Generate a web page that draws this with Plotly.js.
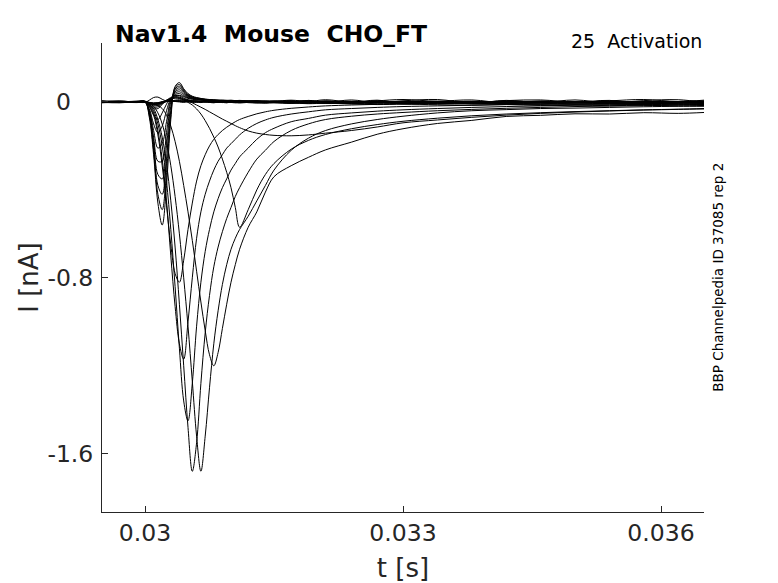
<!DOCTYPE html>
<html>
<head>
<meta charset="utf-8">
<script src="https://cdn.plot.ly/plotly-3.0.1.min.js"></script>
<style>
  html, body { margin: 0; padding: 0; background: #fff; }
  #chart { width: 778px; height: 583px; }
</style>
</head>
<body>
<div id="chart"></div>
<script>
// Sample times (s), shared by every sweep; denser around the current peaks
const tSec = [0.0295,0.0297,0.0299,0.0300,0.03005,0.0301,0.03015,0.0302,0.03025,0.0303,0.03035,0.0304,0.03045,0.0305,0.03055,
  0.0306,0.03065,0.0307,0.03075,0.0308,0.03085,0.0309,0.03095,0.031,0.03105,0.0311,0.0312,0.0313,0.0314,0.0315,
  0.0317,0.0319,0.0321,0.0324,0.0327,0.033,0.0334,0.0338,0.0342,0.0346,0.035,0.0354,0.0358,0.0362,0.0365];

// Currents (nA), one array per sweep
const sweep01 = [0.004,-0.002,0.003,0.001,-0.004,-0.008,-0.006,0.000,0.004,0.006,0.005,0.003,0.002,0.004,0.001,
  0.003,0.000,0.002,-0.002,0.001,0.003,-0.001,0.002,0.000,0.003,-0.002,0.001,0.004,0.000,0.002,
  -0.006,0.007,-0.002,0.009,-0.004,0.005,0.011,-0.005,0.007,-0.002,0.009,-0.004,0.006,0.010,-0.002];
const sweep02 = [-0.003,0.002,-0.001,-0.002,0.008,0.020,0.022,0.012,0.004,0.002,0.004,0.006,0.004,0.002,0.003,
  0.001,0.004,-0.001,0.002,0.000,-0.002,0.002,0.004,0.000,-0.002,0.003,0.001,-0.001,0.003,0.000,
  0.005,-0.007,0.003,-0.002,0.008,-0.006,0.002,0.009,-0.005,0.004,-0.001,0.007,-0.008,0.002,0.005];
const sweep03 = [0.001,0.004,0.000,0.002,-0.006,-0.014,-0.012,-0.004,0.002,0.004,0.008,0.010,0.007,0.005,0.004,
  0.002,0.000,0.003,0.001,-0.002,0.002,0.000,-0.003,0.001,0.002,-0.001,0.000,0.002,-0.003,0.001,
  0.001,0.006,-0.007,-0.002,0.004,-0.009,-0.004,0.003,-0.008,0.001,-0.005,0.005,-0.010,-0.002,-0.007];
const sweep04 = [-0.002,-0.004,0.001,-0.001,-0.008,-0.018,-0.016,-0.006,0.004,0.012,0.018,0.016,0.010,0.006,0.004,
  0.003,0.001,0.002,-0.001,0.001,0.000,-0.002,0.001,-0.001,0.000,0.002,-0.002,0.000,0.001,-0.002,
  0.003,-0.004,0.005,-0.008,0.001,-0.006,0.004,-0.009,-0.002,-0.010,0.002,-0.006,-0.002,-0.008,-0.011];
const sweep05 = [0.005,0.001,0.003,0.002,-0.003,-0.006,-0.004,0.001,0.003,0.005,0.004,0.006,0.003,0.005,0.002,
  0.004,0.001,0.003,0.005,0.002,0.004,0.001,0.003,0.000,0.002,0.004,0.001,0.003,0.000,0.002,
  0.008,0.002,0.010,-0.001,0.005,0.011,0.002,-0.004,0.006,0.009,-0.001,0.005,0.011,0.002,0.008];
const sweep06 = [-0.004,-0.001,-0.003,-0.002,-0.005,-0.009,-0.007,-0.002,0.001,0.003,0.002,0.000,-0.002,0.000,-0.003,
  -0.001,-0.003,0.000,-0.002,-0.004,-0.001,-0.003,0.000,-0.002,-0.004,-0.001,-0.003,-0.005,-0.002,-0.004,
  -0.006,-0.003,-0.005,-0.007,-0.004,-0.006,-0.008,-0.005,-0.007,-0.009,-0.006,-0.008,-0.007,-0.009,-0.008];
const sweep07 = [0.002,0.004,0.000,0.003,-0.002,-0.004,-0.003,0.000,0.002,0.004,0.003,0.002,0.000,0.003,0.001,
  -0.002,0.001,-0.001,0.002,-0.003,0.000,-0.002,-0.004,-0.001,-0.003,-0.005,-0.002,-0.004,-0.006,-0.003,
  -0.005,-0.008,-0.006,-0.009,-0.012,-0.010,-0.013,-0.015,-0.012,-0.016,-0.014,-0.017,-0.015,-0.018,-0.016];
const sweep08 = [0.001,-0.002,0.002,0.000,-0.004,-0.010,-0.008,0.000,0.008,0.016,0.022,0.020,0.012,0.004,-0.004,
  -0.014,-0.024,-0.034,-0.045,-0.056,-0.067,-0.078,-0.088,-0.098,-0.108,-0.117,-0.132,-0.142,-0.148,-0.152,
  -0.154,-0.150,-0.142,-0.130,-0.114,-0.095,-0.082,-0.070,-0.060,-0.052,-0.046,-0.041,-0.037,-0.034,-0.032];
const sweep09 = [-0.002,0.001,-0.001,0.002,-0.004,-0.012,-0.010,-0.002,0.006,0.014,0.018,0.016,0.008,-0.002,-0.014,
  -0.032,-0.055,-0.085,-0.120,-0.160,-0.205,-0.260,-0.320,-0.390,-0.480,-0.570,-0.490,-0.400,-0.330,-0.280,
  -0.215,-0.175,-0.148,-0.122,-0.103,-0.088,-0.074,-0.063,-0.055,-0.049,-0.044,-0.040,-0.036,-0.033,-0.030];
const sweep10 = [0.002,-0.001,0.001,-0.002,-0.004,-0.010,-0.016,-0.030,-0.060,-0.110,-0.180,-0.270,-0.380,-0.500,-0.630,
  -0.770,-0.910,-1.040,-1.150,-1.200,-1.140,-1.030,-0.920,-0.820,-0.740,-0.670,-0.570,-0.500,-0.410,-0.340,
  -0.290,-0.252,-0.218,-0.183,-0.147,-0.122,-0.098,-0.084,-0.066,-0.061,-0.054,-0.055,-0.049,-0.052,-0.048];
const sweep11 = [-0.001,0.002,-0.002,0.000,-0.006,-0.020,-0.050,-0.100,-0.180,-0.290,-0.430,-0.600,-0.800,-1.020,-1.270,
  -1.520,-1.680,-1.520,-1.300,-1.100,-0.950,-0.830,-0.740,-0.670,-0.620,-0.580,-0.520,-0.450,-0.380,-0.310,
  -0.220,-0.165,-0.130,-0.100,-0.080,-0.065,-0.050,-0.040,-0.035,-0.030,-0.028,-0.025,-0.022,-0.020,-0.020];
const sweep12 = [0.001,-0.002,0.002,-0.001,-0.010,-0.030,-0.080,-0.160,-0.280,-0.450,-0.660,-0.920,-1.200,-1.480,-1.680,
  -1.550,-1.280,-1.050,-0.880,-0.750,-0.660,-0.590,-0.530,-0.480,-0.430,-0.390,-0.320,-0.260,-0.220,-0.180,
  -0.130,-0.100,-0.080,-0.065,-0.055,-0.048,-0.040,-0.034,-0.029,-0.025,-0.021,-0.019,-0.017,-0.015,-0.014];
const sweep13 = [-0.002,0.001,0.000,0.002,-0.012,-0.040,-0.100,-0.200,-0.360,-0.580,-0.840,-1.120,-1.360,-1.450,-1.280,
  -1.020,-0.820,-0.680,-0.580,-0.500,-0.440,-0.390,-0.350,-0.310,-0.280,-0.250,-0.210,-0.170,-0.140,-0.120,
  -0.090,-0.075,-0.060,-0.050,-0.042,-0.036,-0.030,-0.025,-0.021,-0.018,-0.015,-0.013,-0.011,-0.010,-0.009];
const sweep14 = [0.002,-0.001,0.001,-0.002,-0.015,-0.050,-0.130,-0.260,-0.450,-0.700,-0.930,-1.100,-1.170,-1.000,-0.800,
  -0.620,-0.500,-0.420,-0.360,-0.310,-0.270,-0.240,-0.210,-0.190,-0.170,-0.150,-0.120,-0.098,-0.082,-0.070,
  -0.055,-0.045,-0.036,-0.030,-0.025,-0.021,-0.018,-0.015,-0.012,-0.010,-0.010,-0.008,-0.008,-0.006,-0.006];
const sweep15 = [-0.001,0.002,-0.002,0.001,-0.020,-0.060,-0.150,-0.290,-0.470,-0.650,-0.780,-0.820,-0.720,-0.580,-0.460,
  -0.360,-0.290,-0.240,-0.200,-0.170,-0.148,-0.130,-0.115,-0.102,-0.090,-0.080,-0.066,-0.054,-0.045,-0.038,
  -0.029,-0.023,-0.018,-0.014,-0.011,-0.009,-0.007,-0.006,-0.005,-0.004,-0.004,-0.003,-0.003,-0.002,-0.002];
const sweep16 = [0.002,-0.003,0.001,0.000,-0.070,-0.240,-0.460,-0.560,-0.380,-0.080,0.070,0.088,0.060,0.038,0.026,
  0.020,0.016,0.013,0.011,0.010,0.008,0.009,0.007,0.008,0.006,0.007,0.005,0.006,0.004,0.005,
  0.003,0.004,0.002,0.003,0.001,0.003,0.000,0.002,0.001,-0.001,0.002,0.000,0.001,-0.002,0.001];
const sweep17 = [-0.001,0.002,-0.002,0.001,-0.060,-0.220,-0.420,-0.490,-0.320,-0.060,0.065,0.080,0.055,0.034,0.024,
  0.018,0.015,0.012,0.010,0.009,0.008,0.006,0.007,0.005,0.006,0.004,0.005,0.003,0.004,0.002,
  0.004,0.001,0.003,0.000,0.002,0.001,-0.001,0.002,0.000,0.001,-0.002,0.001,0.000,-0.001,0.002];
const sweep18 = [0.003,0.000,0.002,-0.001,-0.050,-0.200,-0.380,-0.420,-0.260,-0.040,0.058,0.072,0.050,0.031,0.022,
  0.017,0.013,0.011,0.009,0.008,0.007,0.006,0.005,0.006,0.004,0.005,0.003,0.004,0.002,0.003,
  0.001,0.003,0.000,0.002,-0.001,0.001,0.002,-0.001,0.001,0.000,0.002,-0.002,0.001,0.000,-0.001];
const sweep19 = [-0.002,0.001,0.000,0.002,-0.050,-0.180,-0.330,-0.350,-0.200,-0.020,0.052,0.064,0.045,0.028,0.020,
  0.015,0.012,0.010,0.008,0.007,0.006,0.005,0.006,0.004,0.005,0.003,0.004,0.002,0.003,0.001,
  0.003,0.000,0.002,0.001,-0.001,0.002,0.000,0.001,-0.002,0.001,0.000,0.002,-0.001,0.000,0.001];
const sweep20 = [0.001,-0.002,0.002,0.000,-0.040,-0.160,-0.270,-0.270,-0.140,0.000,0.046,0.055,0.040,0.025,0.018,
  0.014,0.011,0.009,0.008,0.006,0.007,0.005,0.004,0.005,0.003,0.004,0.002,0.003,0.001,0.002,
  0.000,0.002,-0.001,0.001,0.002,-0.001,0.001,0.000,0.002,-0.001,0.001,0.000,-0.002,0.001,0.000];
const sweep21 = [-0.001,0.003,0.000,0.001,-0.040,-0.130,-0.210,-0.190,-0.090,0.010,0.040,0.046,0.034,0.022,0.016,
  0.012,0.010,0.008,0.007,0.006,0.005,0.004,0.005,0.003,0.004,0.002,0.003,0.001,0.002,0.000,
  0.002,0.001,-0.001,0.002,0.000,0.001,-0.002,0.001,0.000,0.002,-0.001,0.000,0.001,-0.001,0.000];
const sweep22 = [0.002,0.000,-0.001,0.000,-0.030,-0.100,-0.140,-0.110,-0.040,0.015,0.034,0.038,0.028,0.019,0.014,
  0.011,0.009,0.007,0.006,0.005,0.004,0.005,0.003,0.004,0.002,0.003,0.001,0.002,0.000,0.001,
  -0.001,0.001,0.000,0.002,-0.001,0.000,0.001,-0.002,0.000,0.001,-0.001,0.001,0.000,-0.002,0.000];
const sweep23 = [0.000,0.002,0.001,-0.001,-0.020,-0.060,-0.080,-0.050,-0.010,0.018,0.028,0.030,0.024,0.016,0.012,
  0.009,0.008,0.006,0.005,0.004,0.005,0.003,0.004,0.002,0.003,0.001,0.002,0.000,0.001,-0.001,
  0.001,0.000,0.002,-0.001,0.001,0.000,-0.002,0.001,-0.001,0.000,0.001,-0.002,0.000,0.001,-0.001];
const sweep24 = [0.000,0.002,-0.002,0.000,-0.012,-0.030,-0.030,-0.012,0.008,0.020,0.030,0.028,0.018,0.010,0.006,
  0.004,0.003,0.001,0.002,0.000,-0.001,0.001,-0.002,0.000,-0.002,-0.001,-0.003,-0.002,-0.004,-0.003,
  -0.005,-0.004,-0.006,-0.005,-0.008,-0.007,-0.009,-0.008,-0.010,-0.009,-0.011,-0.010,-0.012,-0.011,-0.012];
const sweep25 = [0.003,0.000,0.002,0.004,-0.010,-0.024,-0.022,-0.008,0.006,0.016,0.024,0.022,0.014,0.008,0.005,
  0.004,0.002,0.003,0.000,0.002,0.001,0.003,0.000,0.002,0.001,-0.001,0.002,0.000,0.001,0.003,
  0.000,0.002,0.001,-0.002,0.003,0.000,-0.001,0.002,0.000,0.003,-0.002,0.001,0.000,0.002,-0.001];

const sweeps = [sweep01, sweep02, sweep03, sweep04, sweep05, sweep06, sweep07, sweep08, sweep09, sweep10,
  sweep11, sweep12, sweep13, sweep14, sweep15, sweep16, sweep17, sweep18, sweep19, sweep20,
  sweep21, sweep22, sweep23, sweep24, sweep25];

// Axis ticks
const xTickVals = [0.03, 0.033, 0.036];
const xTickText = ['0.03', '0.033', '0.036'];
const yTickVals = [-1.6, -0.8, 0];
const yTickText = ['-1.6', '-0.8', '0\u00a0\u00a0\u00a0'];

const axisColor = '#262626';
const font = 'DejaVu Sans, sans-serif';

const traces = sweeps.map((vals, i) => ({
    x: tSec,
    y: vals,
    type: 'scatter',
    mode: 'lines',
    line: { color: '#000', width: 1, shape: 'spline', smoothing: 1 },
    name: `sweep ${i + 1}`,
    hoverinfo: 'skip'
}));

const layout = {
    width: 778,
    height: 583,
    paper_bgcolor: '#fff',
    plot_bgcolor: '#fff',
    showlegend: false,
    margin: { l: 102, r: 74, t: 43, b: 71, pad: 0 },
    font: { family: font, color: axisColor },
    title: {
        text: '<b>Nav1.4  Mouse  CHO_FT</b>',
        font: { family: font, size: 23.5, color: '#000' },
        xref: 'container', yref: 'container',
        x: 115 / 778, xanchor: 'left',
        y: 1 - 34 / 583, yanchor: 'middle'
    },
    xaxis: {
        range: [0.0295, 0.0365],
        tickvals: xTickVals,
        ticktext: xTickText,
        ticks: 'inside', ticklen: 6, tickwidth: 1, tickcolor: axisColor,
        showline: true, linecolor: axisColor, linewidth: 1,
        showgrid: false, zeroline: false,
        tickfont: { family: font, size: 23.5, color: axisColor },
        title: { text: 't [s]', font: { family: font, size: 26, color: axisColor }, standoff: 12 }
    },
    yaxis: {
        range: [-1.865, 0.268],
        tickvals: yTickVals,
        ticktext: yTickText,
        ticks: 'inside', ticklen: 6, tickwidth: 1, tickcolor: axisColor,
        showline: true, linecolor: axisColor, linewidth: 1,
        showgrid: false, zeroline: false,
        ticklabelstandoff: 3,
        tickfont: { family: font, size: 23.5, color: axisColor },
        title: { text: 'I [nA]', font: { family: font, size: 26, color: axisColor }, standoff: 1 }
    },
    annotations: [
        {
            text: '25  Activation',
            xref: 'paper', yref: 'paper',
            x: 1, y: 1.004, xanchor: 'right', yanchor: 'middle',
            showarrow: false,
            font: { family: font, size: 19, color: '#000' }
        },
        {
            text: 'BBP Channelpedia ID 37085 rep 2',
            xref: 'paper', yref: 'paper',
            x: 1.022, y: 0.5, xanchor: 'center', yanchor: 'middle',
            textangle: -90,
            showarrow: false,
            font: { family: font, size: 13.5, color: '#000' }
        }
    ]
};

Plotly.newPlot('chart', traces, layout, { staticPlot: true, displayModeBar: false });
</script>
</body>
</html>
